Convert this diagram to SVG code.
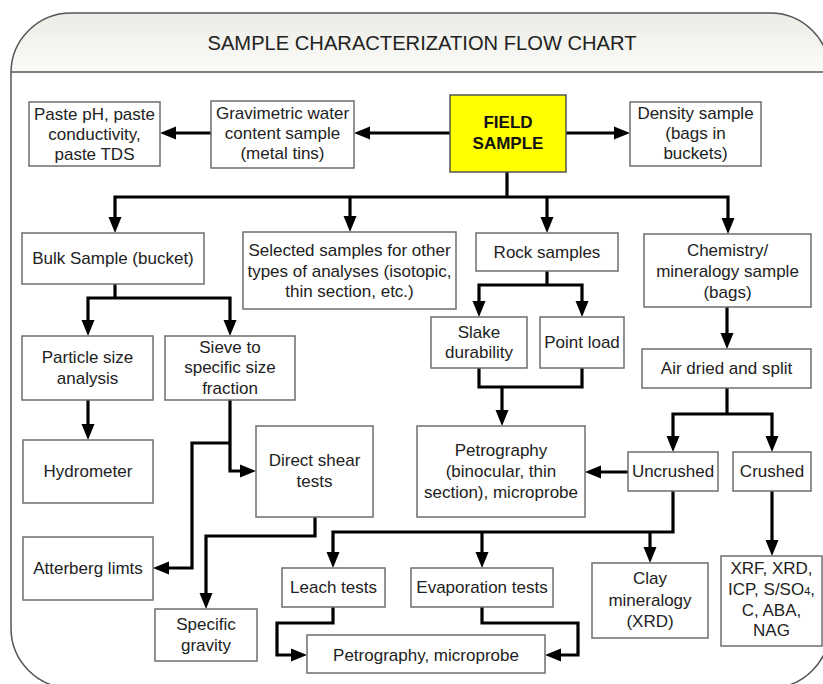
<svg xmlns="http://www.w3.org/2000/svg" width="823" height="684" viewBox="0 0 823 684">
<style>
.box{fill:#fff;stroke:#6e6e6e;stroke-width:1.5}
.t{font-family:"Liberation Sans",Arial,sans-serif;font-size:17px;fill:#222;text-anchor:middle}
.b{font-weight:bold;fill:#111}
.c{fill:none;stroke:#000;stroke-width:3.2}
.a{marker-end:url(#ah)}
.s{marker-start:url(#ah)}
</style>
<defs>
<linearGradient id="hg" x1="0" y1="0" x2="0" y2="1">
<stop offset="0" stop-color="#ecece6"/>
<stop offset="1" stop-color="#fbfbf9"/>
</linearGradient>
<marker id="ah" markerUnits="userSpaceOnUse" markerWidth="16" markerHeight="14" viewBox="0 0 16 14" refX="6" refY="7" orient="auto-start-reverse">
<path d="M0,0.5 L16,7 L0,13.5 z" fill="#000"/>
</marker>
</defs>
<g id="frame">
<path d="M11,72 L11,73 A60,60 0 0 1 71,13 L770,13 A60,60 0 0 1 830,73 L830,72 Z" fill="url(#hg)" stroke="none"/>
<path d="M11,73 A60,60 0 0 1 71,13 L770,13 A60,60 0 0 1 830,73 L830,628 A60,60 0 0 1 770,688 L71,688 A60,60 0 0 1 11,628 Z" fill="none" stroke="#555" stroke-width="1.5"/>
<line x1="11" y1="72" x2="830" y2="72" stroke="#555" stroke-width="1.5"/>
<text x="422" y="50" font-family="'Liberation Sans Narrow','Liberation Sans',Arial,sans-serif" font-size="20" fill="#222" text-anchor="middle" textLength="429" lengthAdjust="spacingAndGlyphs">SAMPLE CHARACTERIZATION FLOW CHART</text>
</g>
<g id="connectors">
<path class="c a" d="M450,133 H364"/>
<path class="c a" d="M211,133 H170"/>
<path class="c a" d="M566,133 H620"/>
<path class="c" d="M507,172 V197"/>
<path class="c a s" d="M115,223 V197 H728 V224"/>
<path class="c a" d="M350,197 V222"/>
<path class="c a" d="M547,197 V223"/>
<path class="c" d="M115,284 V298"/>
<path class="c a s" d="M88,326 V298 H230 V326"/>
<path class="c a" d="M88,400 V430"/>
<path class="c a" d="M230,400 V471 H246"/>
<path class="c a" d="M230,443 H192 V568 H163"/>
<path class="c a" d="M315,517 V536 H206 V599"/>
<path class="c" d="M547,271 V285"/>
<path class="c a s" d="M479,307 V285 H582 V307"/>
<path class="c" d="M479,368 V387 H582 V368"/>
<path class="c a" d="M502,387 V416"/>
<path class="c a" d="M727,307 V339"/>
<path class="c" d="M727,388 V414"/>
<path class="c a s" d="M673,442 V414 H772 V442"/>
<path class="c a" d="M628,472 H595"/>
<path class="c a" d="M772,491 V546"/>
<path class="c a" d="M673,491 V532 H333 V558"/>
<path class="c a" d="M482,532 V558"/>
<path class="c a" d="M650,532 V553"/>
<path class="c a" d="M333,607 V623 H277 V655 H297"/>
<path class="c a" d="M482,607 V623 H578 V655 H555"/>
</g>
<g id="paste"><rect class="box" x="29" y="102" width="131" height="64"/><text class="t" x="94.5" y="120">Paste pH, paste</text><text class="t" x="94.5" y="140">conductivity,</text><text class="t" x="94.5" y="160">paste TDS</text></g>
<g id="gravimetric"><rect class="box" x="211" y="101" width="143" height="67"/><text class="t" x="282.5" y="119">Gravimetric water</text><text class="t" x="282.5" y="139">content sample</text><text class="t" x="282.5" y="159">(metal tins)</text></g>
<g id="field"><rect x="450" y="95" width="116" height="77" fill="#ffff00" stroke="#555" stroke-width="1.5"/><text class="t b" x="508" y="128">FIELD</text><text class="t b" x="508" y="149">SAMPLE</text></g>
<g id="density"><rect class="box" x="630" y="102" width="131" height="64"/><text class="t" x="695.5" y="119">Density sample</text><text class="t" x="695.5" y="139">(bags in</text><text class="t" x="695.5" y="159">buckets)</text></g>
<g id="bulk"><rect class="box" x="22" y="233" width="182" height="51"/><text class="t" x="113" y="264">Bulk Sample (bucket)</text></g>
<g id="selected"><rect class="box" x="243" y="232" width="213" height="77"/><text class="t" x="349.5" y="256">Selected samples for other</text><text class="t" x="349.5" y="277">types of analyses (isotopic,</text><text class="t" x="349.5" y="297">thin section, etc.)</text></g>
<g id="rock"><rect class="box" x="476" y="233" width="142" height="38"/><text class="t" x="547" y="258">Rock samples</text></g>
<g id="chemistry"><rect class="box" x="644" y="234" width="167" height="73"/><text class="t" x="727.5" y="256">Chemistry/</text><text class="t" x="727.5" y="277">mineralogy sample</text><text class="t" x="727.5" y="298">(bags)</text></g>
<g id="particle"><rect class="box" x="22" y="336" width="131" height="64"/><text class="t" x="87.5" y="363">Particle size</text><text class="t" x="87.5" y="384">analysis</text></g>
<g id="sieve"><rect class="box" x="165" y="336" width="130" height="64"/><text class="t" x="230" y="353">Sieve to</text><text class="t" x="230" y="373">specific size</text><text class="t" x="230" y="394">fraction</text></g>
<g id="hydrometer"><rect class="box" x="23" y="440" width="130" height="63"/><text class="t" x="88" y="477">Hydrometer</text></g>
<g id="shear"><rect class="box" x="256" y="426" width="117" height="91"/><text class="t" x="314.5" y="466">Direct shear</text><text class="t" x="314.5" y="487">tests</text></g>
<g id="atterberg"><rect class="box" x="23" y="537" width="130" height="63"/><text class="t" x="88" y="574">Atterberg limts</text></g>
<g id="gravity"><rect class="box" x="155" y="609" width="102" height="52"/><text class="t" x="206" y="630">Specific</text><text class="t" x="206" y="651">gravity</text></g>
<g id="slake"><rect class="box" x="431" y="317" width="96" height="51"/><text class="t" x="479" y="338">Slake</text><text class="t" x="479" y="358">durability</text></g>
<g id="pointload"><rect class="box" x="540" y="317" width="84" height="51"/><text class="t" x="582" y="348">Point load</text></g>
<g id="petro1"><rect class="box" x="417" y="426" width="168" height="91"/><text class="t" x="501" y="456">Petrography</text><text class="t" x="501" y="477">(binocular, thin</text><text class="t" x="501" y="498">section), microprobe</text></g>
<g id="airdried"><rect class="box" x="642" y="349" width="169" height="39"/><text class="t" x="726.5" y="374">Air dried and split</text></g>
<g id="uncrushed"><rect class="box" x="628" y="452" width="90" height="39"/><text class="t" x="673" y="477">Uncrushed</text></g>
<g id="crushed"><rect class="box" x="733" y="452" width="78" height="39"/><text class="t" x="772" y="477">Crushed</text></g>
<g id="leach"><rect class="box" x="282" y="568" width="103" height="39"/><text class="t" x="333.5" y="593">Leach tests</text></g>
<g id="evaporation"><rect class="box" x="411" y="568" width="142" height="39"/><text class="t" x="482" y="593">Evaporation tests</text></g>
<g id="clay"><rect class="box" x="592" y="563" width="116" height="75"/><text class="t" x="650" y="584">Clay</text><text class="t" x="650" y="606">mineralogy</text><text class="t" x="650" y="627">(XRD)</text></g>
<g id="xrf"><rect class="box" x="721" y="556" width="101" height="90"/><text class="t" x="771.5" y="574">XRF, XRD,</text><text class="t" x="771.5" y="595">ICP, S/SO<tspan font-size="11">4</tspan>,</text><text class="t" x="771.5" y="616">C, ABA,</text><text class="t" x="771.5" y="636">NAG</text></g>
<g id="petro2"><rect class="box" x="307" y="635" width="238" height="38"/><text class="t" x="426" y="661">Petrography, microprobe</text></g>
</svg>
